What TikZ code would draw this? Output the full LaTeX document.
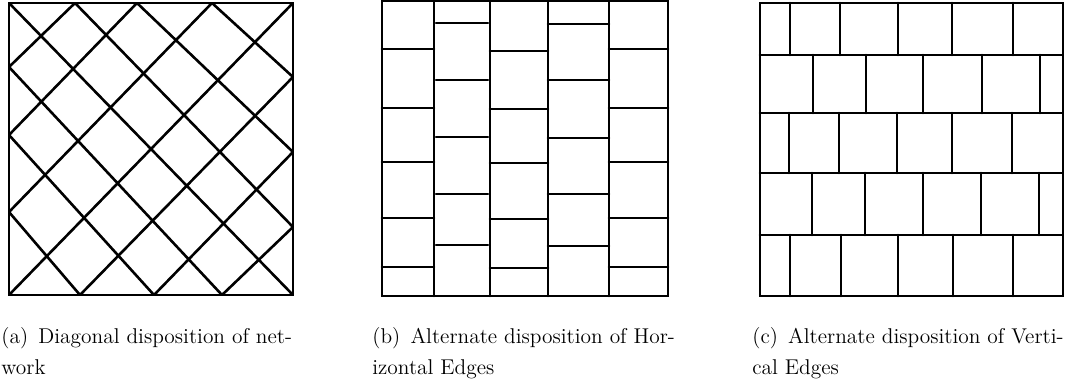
\documentclass[tikz,border=0pt]{standalone}
\begin{document}
\begin{tikzpicture}[x=0.5376pt,y=-0.5376pt,
  gridline/.style={line width=1.4pt, line cap=round},
  frame/.style={line width=1.5pt},
  captext/.style={anchor=base west, inner sep=0pt, font=\fontsize{11.5}{13}\selectfont}]
\useasboundingbox (0,0) rectangle (1082,387);
% ---------- (a) diagonal ----------
\draw[frame] (9,3) rectangle (293,295);
\foreach \a/\b in {{9,67}/{75,3},{9,135}/{137,3},{9,212}/{212,3},{9,295}/{293,3},
                   {80,295}/{293,77},{154,295}/{293,152},{222,295}/{293,227},
                   {9,3}/{293,295},{75,3}/{293,227},{137,3}/{293,152},{212,3}/{293,77},
                   {9,67}/{222,295},{9,135}/{154,295},{9,212}/{80,295}}
  \draw[gridline] (\a) -- (\b);
% ---------- (b) alternate horizontal ----------
\draw[frame] (382,1) rectangle (668,296);
\foreach \x in {434,490,548,609} \draw[gridline] (\x,1) -- (\x,296);
\foreach \y in {49,108,162,218,267} \draw[gridline] (382,\y) -- (434,\y);
\foreach \y in {23,80,137,194,245} \draw[gridline] (436,\y) -- (488,\y);
\foreach \y in {51,109,163,219,268} \draw[gridline] (490,\y) -- (548,\y);
\foreach \y in {24,80,138,194,246} \draw[gridline] (548,\y) -- (609,\y);
\foreach \y in {49,108,162,218,267} \draw[gridline] (609,\y) -- (668,\y);
% ---------- (c) alternate vertical ----------
\draw[frame] (760,3) rectangle (1063,296);
\foreach \y in {55,113,173,235} \draw[gridline] (760,\y) -- (1062,\y);
\foreach \x in {790,840,898,952,1013} \draw[gridline] (\x,3) -- (\x,55);
\foreach \x in {813,866,923,982,1040} \draw[gridline] (\x,55) -- (\x,113);
\foreach \x in {789,839,897,952,1012} \draw[gridline] (\x,113) -- (\x,173);
\foreach \x in {812,865,923,981,1039} \draw[gridline] (\x,173) -- (\x,235);
\foreach \x in {790,841,898,953,1013} \draw[gridline] (\x,235) -- (\x,296);
% ---------- captions ----------
\node[captext] (capa1) at (1,344) {(a)\hspace{5.5pt}Diagonal disposition of net-};
\node[captext] (capa2) at (1,375) {work};
\node[captext] (capb1) at (372,344) {(b)\hspace{5.5pt}Alternate disposition of Hor-};
\node[captext] (capb2) at (372,375) {izontal Edges};
\node[captext] (capc1) at (752,344) {(c)\hspace{5.5pt}Alternate disposition of Verti-};
\node[captext] (capc2) at (752,375) {cal Edges};
\end{tikzpicture}
\end{document}
